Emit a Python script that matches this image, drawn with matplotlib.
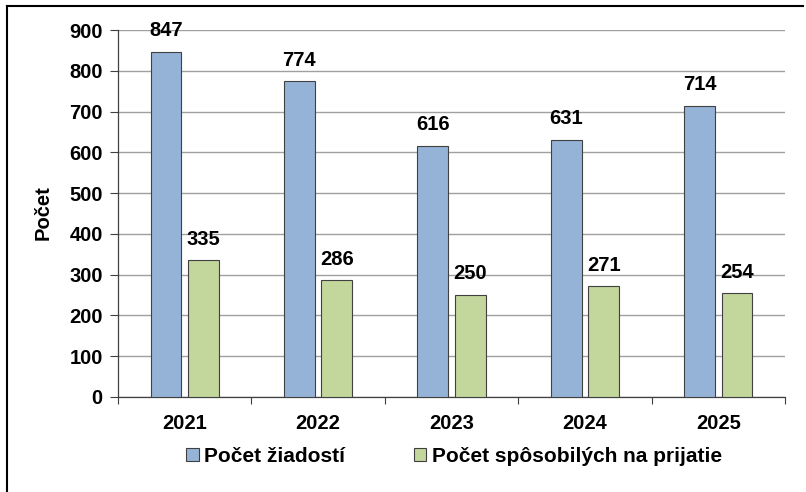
import matplotlib.pyplot as plt
import matplotlib.lines as mlines
import numpy as np

years = ['2021', '2022', '2023', '2024', '2025']
ziadosti = [847, 774, 616, 631, 714]
sposobili = [335, 286, 250, 271, 254]
series_names = ['Počet žiadostí', 'Počet spôsobilých na prijatie']

plt.rcParams['font.family'] = ['Liberation Sans', 'DejaVu Sans']
plt.rcParams['font.weight'] = 'bold'
FS = 14.5

W, H = 806, 492
fig = plt.figure(figsize=(W / 100, H / 100), dpi=100)
ax = fig.add_axes([118 / W, 1 - 397 / H, (785 - 118) / W, (397 - 30) / H])

x = np.arange(len(years))
width = 0.23
blue = ax.bar(x - 0.14, ziadosti, width, color='#95B3D7', edgecolor='#404040',
              linewidth=0.8, label=series_names[0], zorder=3)
green = ax.bar(x + 0.14, sposobili, width, color='#C3D69B', edgecolor='#404040',
               linewidth=0.8, label=series_names[1], zorder=3)

for bars in (blue, green):
    ax.bar_label(bars, padding=8.5, fontsize=FS, fontweight='bold')

ax.set_xlim(-0.5, len(years) - 0.5)
ax.set_ylim(0, 900)
ax.set_yticks(np.arange(0, 901, 100))
ax.yaxis.grid(True, color='#a0a0a0', linewidth=1.0, zorder=0)
ax.set_axisbelow(True)

ax.set_xticks(x)
ax.set_xticklabels(years, fontsize=FS, fontweight='bold')
ax.set_xticks(np.arange(-0.5, len(years)), minor=True)
ax.tick_params(axis='x', which='major', length=0, pad=12)
ax.tick_params(axis='x', which='minor', length=5, width=0.8, color='#404040')
ax.tick_params(axis='y', length=6, width=0.8, labelsize=FS, color='#404040', pad=5)
for lbl in ax.get_yticklabels():
    lbl.set_fontweight('bold')

for side in ('top', 'right'):
    ax.spines[side].set_visible(False)
for side in ('left', 'bottom'):
    ax.spines[side].set_color('#404040')
    ax.spines[side].set_linewidth(0.9)

ax.set_ylabel('Počet', fontsize=FS, fontweight='bold')
ax.yaxis.set_label_coords((53 - 118) / 667, (397 - 213) / 367)

fig.legend(handles=[blue, green], loc='center', bbox_to_anchor=(454 / W, 1 - 456 / H),
           ncol=2, frameon=False, fontsize=15, handlelength=0.6, handleheight=0.6,
           handletextpad=0.25, columnspacing=3.3, borderaxespad=0)

# outer frame: only the top and left edges are visible
fig.add_artist(mlines.Line2D([7 / W, 7 / W], [0, 1 - 6 / H], transform=fig.transFigure,
                             color='black', linewidth=1.5))
fig.add_artist(mlines.Line2D([7 / W, 803 / W], [1 - 6 / H, 1 - 6 / H],
                             transform=fig.transFigure, color='black', linewidth=1.5))

fig.savefig('out.png', dpi=100)
